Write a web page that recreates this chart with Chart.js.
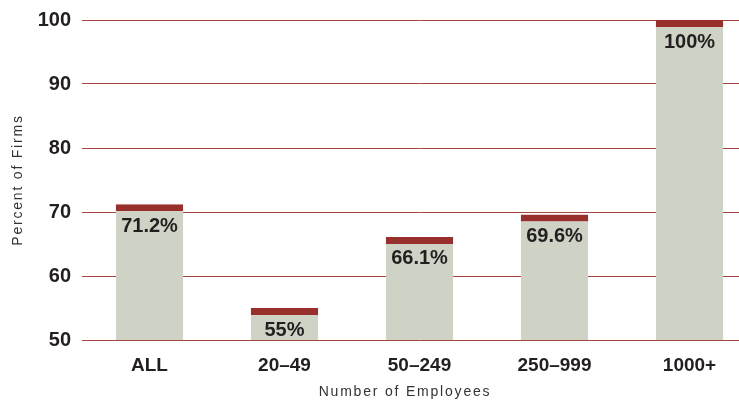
<!DOCTYPE html>
<html>
<head>
<meta charset="utf-8">
<script src="https://cdn.jsdelivr.net/npm/chart.js@4/dist/chart.umd.min.js"></script>
<style>
  html, body { margin: 0; padding: 0; overflow: hidden; background: #fff; }
  #wrap { width: 760px; height: 400px; position: relative; }
</style>
</head>
<body>
<div id="wrap"><canvas id="c"></canvas></div>
<script>
// Share of firms, by size class
const categories = ['ALL', '20\u201349', '50\u2013249', '250\u2013999', '1000+'];
const percentFirms = [71.2, 55, 66.1, 69.6, 100];
const valueLabels = ['71.2%', '55%', '66.1%', '69.6%', '100%'];
const yTicks = [50, 60, 70, 80, 90, 100];
const xTitle = 'Number of Employees';
const yTitle = 'Percent of Firms';

const INK = '#231f20';
const FONT = '"Liberation Sans", Arial, Helvetica, sans-serif';

// Writes each bar's value just below its dark cap
const valueLabelPlugin = {
  id: 'valueLabels',
  afterDatasetsDraw(chart) {
    const ctx = chart.ctx;
    const meta = chart.getDatasetMeta(0);
    ctx.save();
    ctx.fillStyle = INK;
    ctx.font = 'bold 20px ' + FONT;
    ctx.textAlign = 'center';
    ctx.textBaseline = 'middle';
    meta.data.forEach((bar, i) => {
      ctx.fillText(valueLabels[i], bar.x, bar.y + 22);
    });
    ctx.restore();
  }
};

// Axis titles, letter-spaced
const axisTitlePlugin = {
  id: 'axisTitles',
  afterDraw(chart) {
    const ctx = chart.ctx;
    ctx.save();
    ctx.fillStyle = '#333';
    ctx.font = '14px ' + FONT;
    ctx.letterSpacing = '1.8px';
    ctx.textAlign = 'center';
    ctx.textBaseline = 'middle';
    ctx.fillText(xTitle, 405, 392);
    ctx.translate(18, 180);
    ctx.rotate(-Math.PI / 2);
    ctx.fillText(yTitle, 0, 0);
    ctx.restore();
  }
};

new Chart(document.getElementById('c'), {
  type: 'bar',
  data: {
    labels: categories,
    datasets: [{
      data: percentFirms,
      backgroundColor: '#cfd3c6',
      borderColor: '#97302c',
      borderWidth: { top: 7, right: 0, bottom: 0, left: 0 },
      borderSkipped: false,
      barPercentage: 0.5,
      categoryPercentage: 1.0
    }]
  },
  options: {
    responsive: true,
    maintainAspectRatio: false,
    animation: false,
    layout: { padding: { top: 20, right: 3, bottom: 0, left: 0 } },
    plugins: {
      legend: { display: false },
      tooltip: { enabled: false }
    },
    scales: {
      x: {
        grid: { display: false, drawTicks: false },
        border: { display: false },
        ticks: {
          color: INK,
          font: { family: FONT, size: 19, weight: 'bold' },
          padding: 14
        },
        afterFit(scale) { scale.height = 60; }
      },
      y: {
        min: 50,
        max: 100,
        afterBuildTicks(scale) { scale.ticks = yTicks.map(v => ({ value: v })); },
        grid: { color: '#a8443f', lineWidth: 1, drawTicks: false },
        border: { display: false },
        ticks: {
          color: INK,
          font: { family: FONT, size: 20, weight: 'bold' },
          padding: 11
        },
        afterFit(scale) {
          scale.width = 82;
          scale.paddingTop = 0;
          scale.paddingBottom = 0;
        }
      }
    }
  },
  plugins: [valueLabelPlugin, axisTitlePlugin]
});
</script>
</body>
</html>
